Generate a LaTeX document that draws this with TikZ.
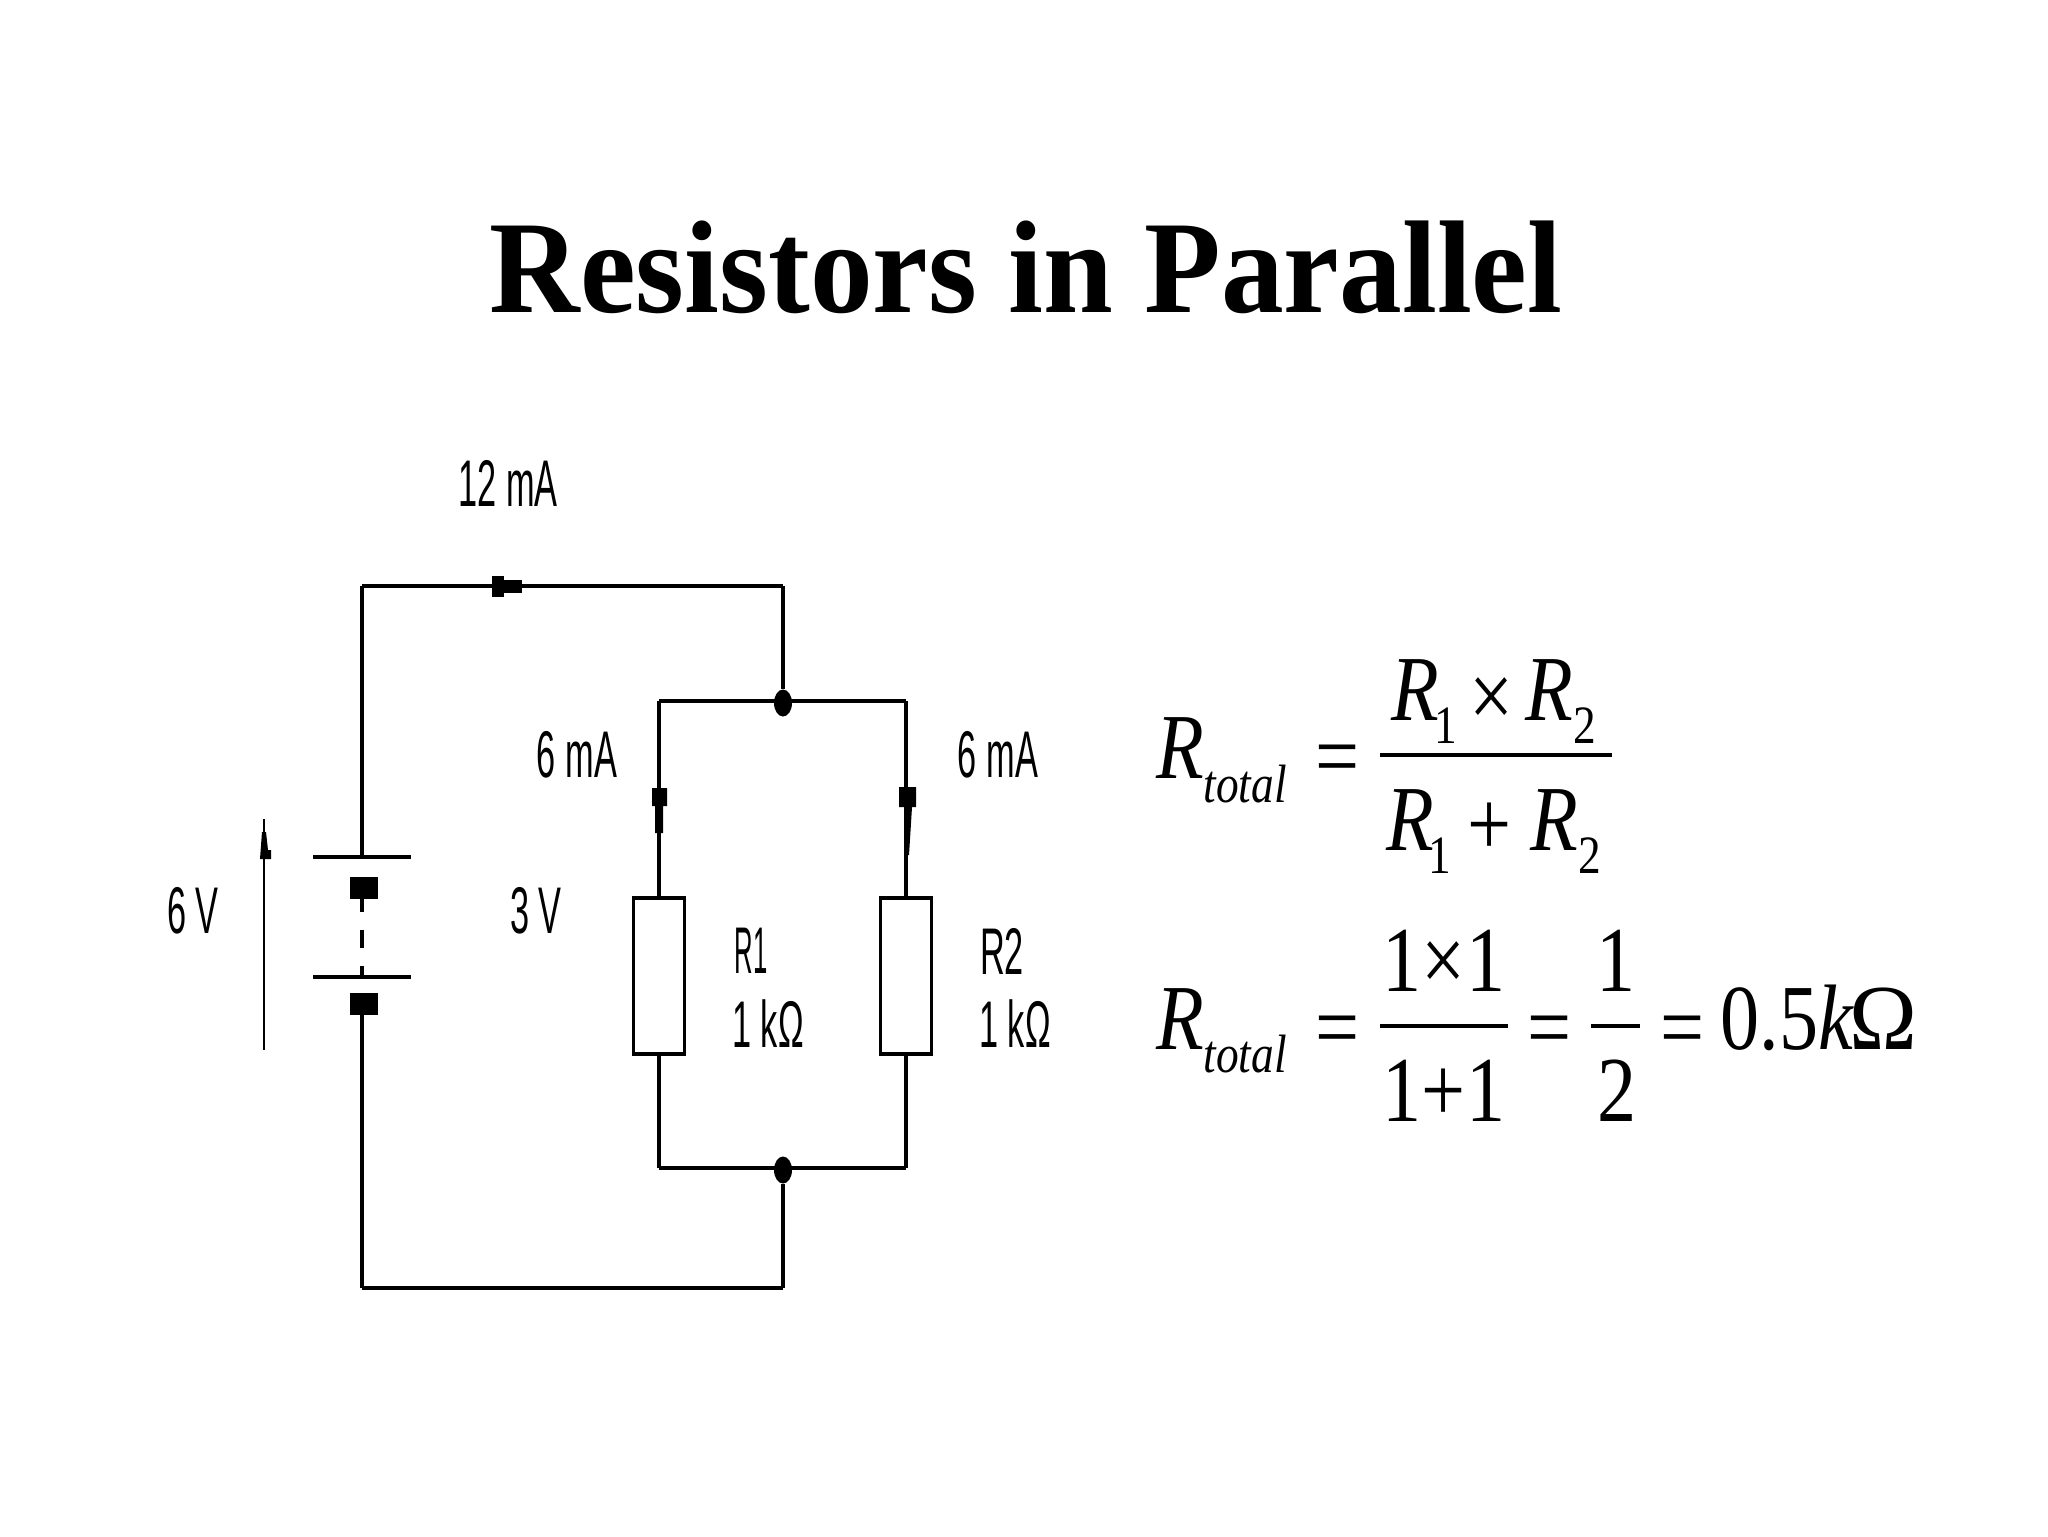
\documentclass[tikz,border=0pt]{standalone}
\usepackage{fontspec}
\setmainfont{Liberation Serif}
\newfontfamily\pixfont[FakeStretch=0.52]{Liberation Sans}
\newfontfamily\eqfont[FakeStretch=0.84]{Liberation Serif}
\newfontfamily\titlefont[FakeStretch=0.95]{Liberation Serif}
\usetikzlibrary{positioning,shapes.geometric}

\newcommand{\rsub}[2]{R\kern#1\raisebox{-11.5pt}{\upshape\fontsize{27}{27}\selectfont #2}}

\tikzset{
  wire/.style={line width=1.6pt},
  hwire/.style={line width=2.1pt},
  resistor/.style={draw, line width=1.9pt, minimum width=25.5pt, minimum height=78pt, inner sep=0pt},
  blob/.style={fill=black, inner sep=0pt, outer sep=0pt},
  junction/.style={ellipse, fill=black, inner sep=0pt, minimum width=9pt, minimum height=13.5pt},
  pixlabel/.style={inner sep=0pt, font=\pixfont\fontsize{33}{33}\selectfont},
  eqmain/.style={inner sep=0pt, anchor=base, font=\eqfont\fontsize{46.5}{46.5}\selectfont},
  eqital/.style={eqmain, font=\eqfont\itshape\fontsize{46.5}{46.5}\selectfont},
  eqsubit/.style={inner sep=0pt, anchor=base, font=\eqfont\itshape\fontsize{27}{27}\selectfont},
  fracbar/.style={line width=1.6pt}
}

\begin{document}
\begin{tikzpicture}[x=0.5pt, y=-0.5pt]
  \useasboundingbox[fill=white] (0,0) rectangle (2048,1536);

  \node[inner sep=0pt, anchor=base, font=\titlefont\bfseries\fontsize{66}{66}\selectfont] (title) at (1026,312) {Resistors in Parallel};

  % circuit corners
  \coordinate (topleft) at (362,586);
  \coordinate (topright) at (783,586);
  \coordinate (botleft) at (362,1288);
  \coordinate (botright) at (783,1288);
  \node[junction] (splitj) at (783,703) {};
  \node[junction] (joinj) at (783,1170) {};
  \coordinate (splitl) at (659,701);
  \coordinate (splitr) at (906,701);
  \coordinate (joinl) at (659,1168);
  \coordinate (joinr) at (906,1168);

  \node[resistor] (rone) at (659,976) {};
  \node[resistor] (rtwo) at (906,976) {};

  % battery
  \node[blob, minimum width=49pt, minimum height=2.4pt] (plateup) at (362,857) {};
  \node[blob, minimum width=49pt, minimum height=2.4pt] (platelow) at (362,977) {};
  \node[blob, minimum width=14pt, minimum height=11pt] (cellup) at (364,888) {};
  \node[blob, minimum width=14pt, minimum height=11pt] (celllow) at (364,1004) {};

  \draw[hwire] (topleft) -- (topright);
  \draw[wire] (topleft) -- (plateup);
  \draw[wire] (topright) -- (splitj);
  \draw[hwire] (splitl) -- (splitr);
  \draw[wire] (splitl) -- (rone);
  \draw[wire] (splitr) -- (rtwo);
  \draw[wire] (rone) -- (joinl);
  \draw[wire] (rtwo) -- (joinr);
  \draw[hwire] (joinl) -- (joinr);
  \draw[wire] (joinj) -- (botright);
  \draw[hwire] (botleft) -- (botright);
  \draw[wire] (botleft) -- (botleft |- celllow.south);
  \draw[wire, dash pattern=on 9pt off 9pt, dash phase=2.5pt] (topleft |- cellup.south) -- (topleft |- platelow.north);

  % current markers
  \node[blob, minimum width=6pt, minimum height=10.5pt] (markb) at (498,586) {};
  \node[blob, minimum width=9pt, minimum height=6.5pt, right=0pt of markb] (marka) {};
  \fill (652,788) -- (667,788) -- (667,806) -- (663,806) -- (663,833) -- (655,833) -- (655,806) -- (652,806) -- cycle;
  \fill (899,787) -- (916,787) -- (916,807) -- (912,807) -- (909,855) -- (905,855) -- (904,807) -- (899,807) -- cycle;

  % voltage arrow
  \coordinate (vtail) at (264,1050);
  \coordinate (vhead) at (264,819);
  \draw[line width=1.1pt] (vtail) -- (vhead);
  \fill (262,832) -- (266,832) -- (268,850) -- (271,850) -- (271,859) -- (260,859) -- cycle;

  % circuit labels
  \node[pixlabel] (itot) at (508,483) {12 mA};
  \node[pixlabel] (ileft) at (577,755) {6 mA};
  \node[pixlabel] (iright) at (998,755) {6 mA};
  \node[pixlabel] (vbat) at (193,911) {6 V};
  \node[pixlabel] (vres) at (536,911) {3 V};
  \node[pixlabel] (ronename) at (751,951) {\scalebox{0.75}[1]{R1}};
  \node[pixlabel] (ronevalue) at (768,1024) {1 kΩ};
  \node[pixlabel] (rtwoname) at (1002,951) {R2};
  \node[pixlabel] (rtwovalue) at (1015,1024) {1 kΩ};

  % first equation
  \node[eqital] (rtotala) at (1180,778) {R};
  \node[eqsubit] (subtotala) at (1245,802) {total};
  \node[eqmain] (eqa) at (1338,787) {=};
  \node[eqital, anchor=base west] (numra) at (1391,720) {\rsub{-2.25pt}{1}};
  \node[eqmain] (times) at (1492,727) {×};
  \node[eqital, anchor=base west] (numrb) at (1525,720) {\rsub{0pt}{2}};
  \coordinate (barastart) at (1380,755);
  \coordinate (baraend) at (1612,755);
  \draw[fracbar] (barastart) -- (baraend);
  \node[eqital, anchor=base west] (denra) at (1386,850) {\rsub{-2.75pt}{1}};
  \node[eqmain] (plus) at (1490,855) {+};
  \node[eqital, anchor=base west] (denrb) at (1530,850) {\rsub{0pt}{2}};

  % second equation
  \node[eqital] (rtotalb) at (1180,1049) {R};
  \node[eqsubit] (subtotalb) at (1245,1072) {total};
  \node[eqmain] (eqb) at (1338,1058) {=};
  \node[eqmain] (numc) at (1444,991) {1×1};
  \coordinate (barbstart) at (1380,1026);
  \coordinate (barbend) at (1508,1026);
  \draw[fracbar] (barbstart) -- (barbend);
  \node[eqmain] (denc) at (1444,1121) {1+1};
  \node[eqmain] (eqc) at (1550,1058) {=};
  \node[eqmain] (numd) at (1616,991) {1};
  \coordinate (barcstart) at (1591,1026);
  \coordinate (barcend) at (1640,1026);
  \draw[fracbar] (barcstart) -- (barcend);
  \node[eqmain] (dend) at (1617,1121) {2};
  \node[eqmain] (eqd) at (1682,1058) {=};
  \node[eqmain, anchor=base west] (result) at (1720,1049) {0.5\textit{k}\kern-2pt\scalebox{1.17}[1]{Ω}};
\end{tikzpicture}
\end{document}
